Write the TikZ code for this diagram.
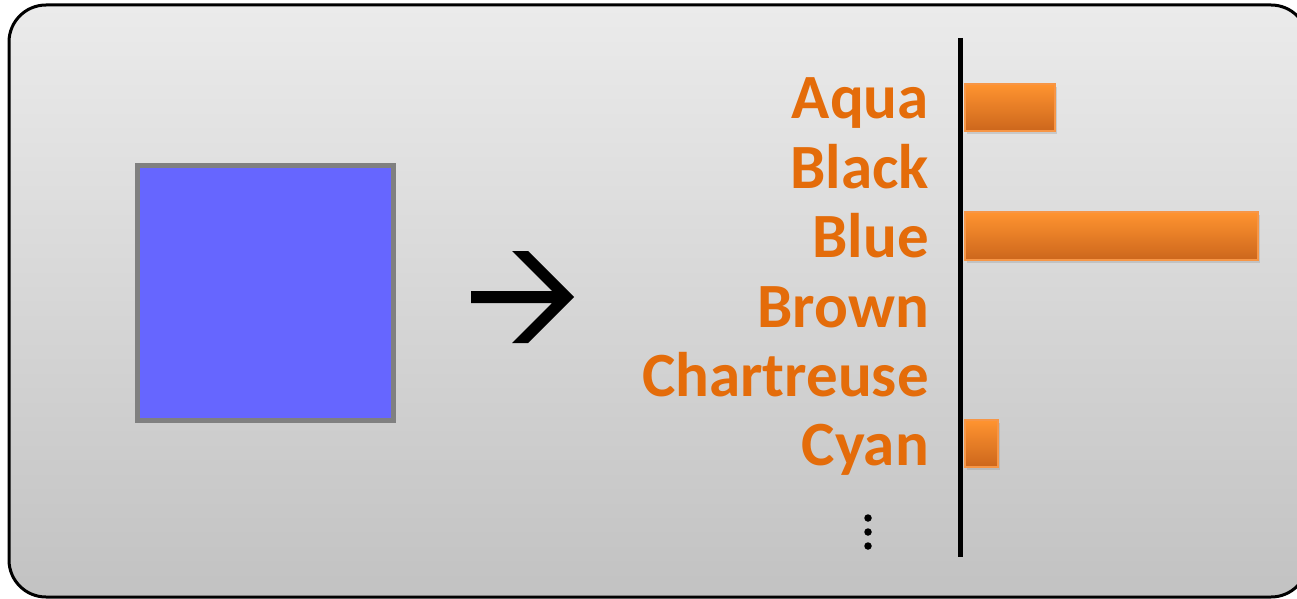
\documentclass[tikz,border=0pt]{standalone}
\usepackage{fontspec}
\setmainfont{Carlito}
\usetikzlibrary{shadows}
\definecolor{lbl}{HTML}{E46C0A}
\definecolor{bartop}{HTML}{FF9430}
\definecolor{barbot}{HTML}{CC661C}
\definecolor{barline}{HTML}{F79646}
\definecolor{sqfill}{HTML}{6666FF}
\definecolor{sqline}{HTML}{808080}
\definecolor{bgtop}{HTML}{EBEBEB}
\definecolor{bgbot}{HTML}{C2C2C2}
\tikzset{
  lab/.style={anchor=base east, inner sep=0pt, text=lbl, font=\fontsize{63}{63}\selectfont\bfseries},
  bar/.style={top color=bartop, bottom color=barbot, draw=barline, line width=1.5pt,
    drop shadow={opacity=0.25, shadow xshift=2pt, shadow yshift=-3pt}},
  dot/.style={fill=black, circle, inner sep=0pt, minimum size=7.5pt}
}
\begin{document}
\begin{tikzpicture}[x=1pt,y=1pt]
\useasboundingbox (0,0) rectangle (1297,-599);
\begin{scope}
\clip (0,0) rectangle (1297,-599);
\draw[line width=3pt, rounded corners=37pt, top color=bgtop, bottom color=bgbot] (9,-5) rectangle (1308,-597);
\end{scope}
% square
\node[draw=sqline, line width=5pt, fill=sqfill, minimum width=256pt, minimum height=255pt, inner sep=0pt] (sq) at (265,-292.5) {};
% arrow glyph
\fill[black] (512,-251) -- (528,-251) -- (574,-297) -- (528,-343) -- (512,-343) -- (552,-303) -- (471,-303) -- (471,-291) -- (552,-291) -- cycle;
% axis
\coordinate (axtop) at (960,-38);
\coordinate (axbot) at (960,-557);
\draw[line width=5pt, black] (axtop) -- (axbot);
% labels
\node[lab] (aqua) at (929,-119) {Aqua};
\node[lab] (black) at (929,-188) {Black};
\node[lab] (blue) at (929,-257) {Blue};
\node[lab] (brown) at (929,-327) {Brown};
\node[lab] (chart) at (929,-396) {Chartreuse};
\node[lab] (cyan) at (929,-465) {Cyan};
% bars
\path[bar] (965,-84) rectangle (1055,-131);
\path[bar] (965,-212) rectangle (1258,-260);
\path[bar] (965,-420) rectangle (998,-467);
% dots
\node[dot] (d1) at (868,-518) {};
\node[dot] (d2) at (868,-532) {};
\node[dot] (d3) at (868,-546) {};
\end{tikzpicture}
\end{document}
